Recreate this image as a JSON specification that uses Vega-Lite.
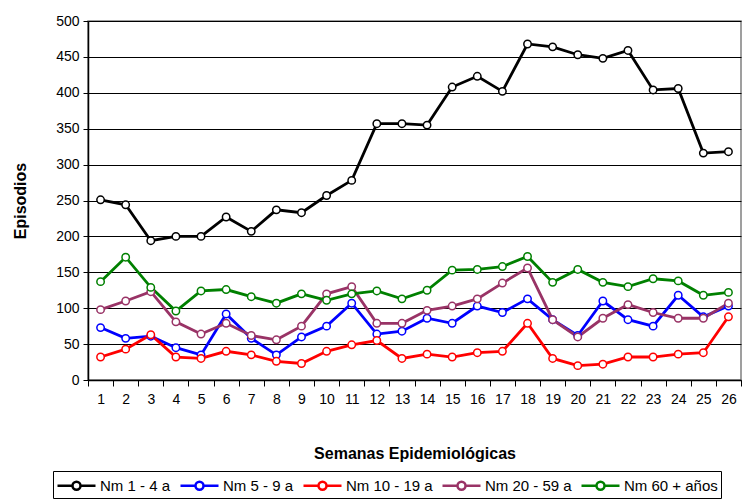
{
  "$schema": "https://vega.github.io/schema/vega-lite/v6.json",
  "autosize": {"type": "none"},
  "width": 653,
  "height": 359,
  "padding": {"left": 88, "top": 21, "right": 9, "bottom": 120},
  "background": "white",
  "config": {
    "font": "Liberation Sans",
    "view": {"stroke": "#808080", "strokeWidth": 1.5}
  },
  "datasets": {
    "d": [
      {"w":1,"g":"Nm 1 - 4 a","v":251},{"w":2,"g":"Nm 1 - 4 a","v":244},{"w":3,"g":"Nm 1 - 4 a","v":194},{"w":4,"g":"Nm 1 - 4 a","v":200},{"w":5,"g":"Nm 1 - 4 a","v":200},{"w":6,"g":"Nm 1 - 4 a","v":227},{"w":7,"g":"Nm 1 - 4 a","v":207},{"w":8,"g":"Nm 1 - 4 a","v":237},{"w":9,"g":"Nm 1 - 4 a","v":233},{"w":10,"g":"Nm 1 - 4 a","v":257},{"w":11,"g":"Nm 1 - 4 a","v":278},{"w":12,"g":"Nm 1 - 4 a","v":357},{"w":13,"g":"Nm 1 - 4 a","v":357},{"w":14,"g":"Nm 1 - 4 a","v":355},{"w":15,"g":"Nm 1 - 4 a","v":408},{"w":16,"g":"Nm 1 - 4 a","v":423},{"w":17,"g":"Nm 1 - 4 a","v":402},{"w":18,"g":"Nm 1 - 4 a","v":468},{"w":19,"g":"Nm 1 - 4 a","v":464},{"w":20,"g":"Nm 1 - 4 a","v":453},{"w":21,"g":"Nm 1 - 4 a","v":448},{"w":22,"g":"Nm 1 - 4 a","v":459},{"w":23,"g":"Nm 1 - 4 a","v":404},{"w":24,"g":"Nm 1 - 4 a","v":406},{"w":25,"g":"Nm 1 - 4 a","v":316},{"w":26,"g":"Nm 1 - 4 a","v":318},
      {"w":1,"g":"Nm 5 - 9 a","v":73},{"w":2,"g":"Nm 5 - 9 a","v":58},{"w":3,"g":"Nm 5 - 9 a","v":61},{"w":4,"g":"Nm 5 - 9 a","v":45},{"w":5,"g":"Nm 5 - 9 a","v":35},{"w":6,"g":"Nm 5 - 9 a","v":92},{"w":7,"g":"Nm 5 - 9 a","v":58},{"w":8,"g":"Nm 5 - 9 a","v":35},{"w":9,"g":"Nm 5 - 9 a","v":60},{"w":10,"g":"Nm 5 - 9 a","v":75},{"w":11,"g":"Nm 5 - 9 a","v":107},{"w":12,"g":"Nm 5 - 9 a","v":64},{"w":13,"g":"Nm 5 - 9 a","v":68},{"w":14,"g":"Nm 5 - 9 a","v":86},{"w":15,"g":"Nm 5 - 9 a","v":79},{"w":16,"g":"Nm 5 - 9 a","v":103},{"w":17,"g":"Nm 5 - 9 a","v":94},{"w":18,"g":"Nm 5 - 9 a","v":113},{"w":19,"g":"Nm 5 - 9 a","v":84},{"w":20,"g":"Nm 5 - 9 a","v":62},{"w":21,"g":"Nm 5 - 9 a","v":110},{"w":22,"g":"Nm 5 - 9 a","v":84},{"w":23,"g":"Nm 5 - 9 a","v":75},{"w":24,"g":"Nm 5 - 9 a","v":118},{"w":25,"g":"Nm 5 - 9 a","v":88},{"w":26,"g":"Nm 5 - 9 a","v":103},
      {"w":1,"g":"Nm 10 - 19 a","v":32},{"w":2,"g":"Nm 10 - 19 a","v":43},{"w":3,"g":"Nm 10 - 19 a","v":63},{"w":4,"g":"Nm 10 - 19 a","v":32},{"w":5,"g":"Nm 10 - 19 a","v":30},{"w":6,"g":"Nm 10 - 19 a","v":40},{"w":7,"g":"Nm 10 - 19 a","v":35},{"w":8,"g":"Nm 10 - 19 a","v":26},{"w":9,"g":"Nm 10 - 19 a","v":23},{"w":10,"g":"Nm 10 - 19 a","v":40},{"w":11,"g":"Nm 10 - 19 a","v":49},{"w":12,"g":"Nm 10 - 19 a","v":55},{"w":13,"g":"Nm 10 - 19 a","v":30},{"w":14,"g":"Nm 10 - 19 a","v":36},{"w":15,"g":"Nm 10 - 19 a","v":32},{"w":16,"g":"Nm 10 - 19 a","v":38},{"w":17,"g":"Nm 10 - 19 a","v":40},{"w":18,"g":"Nm 10 - 19 a","v":79},{"w":19,"g":"Nm 10 - 19 a","v":30},{"w":20,"g":"Nm 10 - 19 a","v":20},{"w":21,"g":"Nm 10 - 19 a","v":22},{"w":22,"g":"Nm 10 - 19 a","v":32},{"w":23,"g":"Nm 10 - 19 a","v":32},{"w":24,"g":"Nm 10 - 19 a","v":36},{"w":25,"g":"Nm 10 - 19 a","v":38},{"w":26,"g":"Nm 10 - 19 a","v":88},
      {"w":1,"g":"Nm 20 - 59 a","v":98},{"w":2,"g":"Nm 20 - 59 a","v":110},{"w":3,"g":"Nm 20 - 59 a","v":123},{"w":4,"g":"Nm 20 - 59 a","v":81},{"w":5,"g":"Nm 20 - 59 a","v":64},{"w":6,"g":"Nm 20 - 59 a","v":79},{"w":7,"g":"Nm 20 - 59 a","v":62},{"w":8,"g":"Nm 20 - 59 a","v":56},{"w":9,"g":"Nm 20 - 59 a","v":75},{"w":10,"g":"Nm 20 - 59 a","v":120},{"w":11,"g":"Nm 20 - 59 a","v":130},{"w":12,"g":"Nm 20 - 59 a","v":79},{"w":13,"g":"Nm 20 - 59 a","v":79},{"w":14,"g":"Nm 20 - 59 a","v":97},{"w":15,"g":"Nm 20 - 59 a","v":103},{"w":16,"g":"Nm 20 - 59 a","v":113},{"w":17,"g":"Nm 20 - 59 a","v":135},{"w":18,"g":"Nm 20 - 59 a","v":156},{"w":19,"g":"Nm 20 - 59 a","v":84},{"w":20,"g":"Nm 20 - 59 a","v":60},{"w":21,"g":"Nm 20 - 59 a","v":86},{"w":22,"g":"Nm 20 - 59 a","v":105},{"w":23,"g":"Nm 20 - 59 a","v":94},{"w":24,"g":"Nm 20 - 59 a","v":86},{"w":25,"g":"Nm 20 - 59 a","v":86},{"w":26,"g":"Nm 20 - 59 a","v":107},
      {"w":1,"g":"Nm 60 + años","v":137},{"w":2,"g":"Nm 60 + años","v":171},{"w":3,"g":"Nm 60 + años","v":129},{"w":4,"g":"Nm 60 + años","v":96},{"w":5,"g":"Nm 60 + años","v":124},{"w":6,"g":"Nm 60 + años","v":126},{"w":7,"g":"Nm 60 + años","v":116},{"w":8,"g":"Nm 60 + años","v":107},{"w":9,"g":"Nm 60 + años","v":120},{"w":10,"g":"Nm 60 + años","v":111},{"w":11,"g":"Nm 60 + años","v":120},{"w":12,"g":"Nm 60 + años","v":124},{"w":13,"g":"Nm 60 + años","v":113},{"w":14,"g":"Nm 60 + años","v":125},{"w":15,"g":"Nm 60 + años","v":153},{"w":16,"g":"Nm 60 + años","v":154},{"w":17,"g":"Nm 60 + años","v":158},{"w":18,"g":"Nm 60 + años","v":172},{"w":19,"g":"Nm 60 + años","v":136},{"w":20,"g":"Nm 60 + años","v":154},{"w":21,"g":"Nm 60 + años","v":136},{"w":22,"g":"Nm 60 + años","v":130},{"w":23,"g":"Nm 60 + años","v":141},{"w":24,"g":"Nm 60 + años","v":138},{"w":25,"g":"Nm 60 + años","v":118},{"w":26,"g":"Nm 60 + años","v":122}
    ]
  },
  "data": {"name": "d"},
  "encoding": {
    "x": {
      "field": "w", "type": "ordinal", "bandPosition": 0.5,
      "scale": {"type": "band", "paddingInner": 0, "paddingOuter": 0},
      "axis": {
        "title": "Semanas Epidemiológicas", "titleFont": "Liberation Sans", "titleFontSize": 16, "titleFontWeight": "bold",
        "titleColor": "black", "titlePadding": 39,
        "labelAngle": 0, "labelFontSize": 14, "labelColor": "black", "labelPadding": 6,
        "tickBand": "extent", "tickColor": "black", "tickSize": 6, "domainColor": "black", "domainWidth": 1.5
      }
    },
    "y": {
      "field": "v", "type": "quantitative",
      "scale": {"domain": [0, 500], "nice": false},
      "axis": {
        "title": "Episodios", "titleFont": "Liberation Sans", "titleFontSize": 16, "titleFontWeight": "bold",
        "titleColor": "black", "titlePadding": 27,
        "values": [0,50,100,150,200,250,300,350,400,450,500],
        "labelFontSize": 14, "labelColor": "black", "labelPadding": 4,
        "tickColor": "black", "tickSize": 5, "domainColor": "black", "domainWidth": 1.5,
        "grid": true, "gridColor": "black", "gridWidth": 1
      }
    },
    "stroke": {
      "field": "g", "type": "nominal",
      "scale": {
        "domain": ["Nm 1 - 4 a", "Nm 5 - 9 a", "Nm 10 - 19 a", "Nm 20 - 59 a", "Nm 60 + años"],
        "range": ["#000000", "#0000ff", "#ff0000", "#993366", "#008000"]
      },
      "legend": {
        "title": null, "orient": "none", "direction": "horizontal",
        "legendX": -35, "legendY": 450,
        "symbolType": "M -1 0 L 0.5 0 M 1.3 0 A 0.4 0.4 0 1 1 0.5 0 A 0.4 0.4 0 1 1 1.3 0 M 1.3 0 L 2.8 0",
        "symbolSize": 400, "symbolStrokeWidth": 2.5, "symbolFillColor": "white",
        "labelFont": "Liberation Sans", "labelFontSize": 15, "labelColor": "black", "labelOffset": 21,
        "columnPadding": 4, "columns": 5,
        "strokeColor": "black", "padding": 3
      }
    }
  },
  "layer": [
    {"mark": {"type": "line", "strokeWidth": 2.8}},
    {"mark": {"type": "point", "filled": true, "fill": "white", "size": 55, "strokeWidth": 1.5, "opacity": 1}}
  ]
}
